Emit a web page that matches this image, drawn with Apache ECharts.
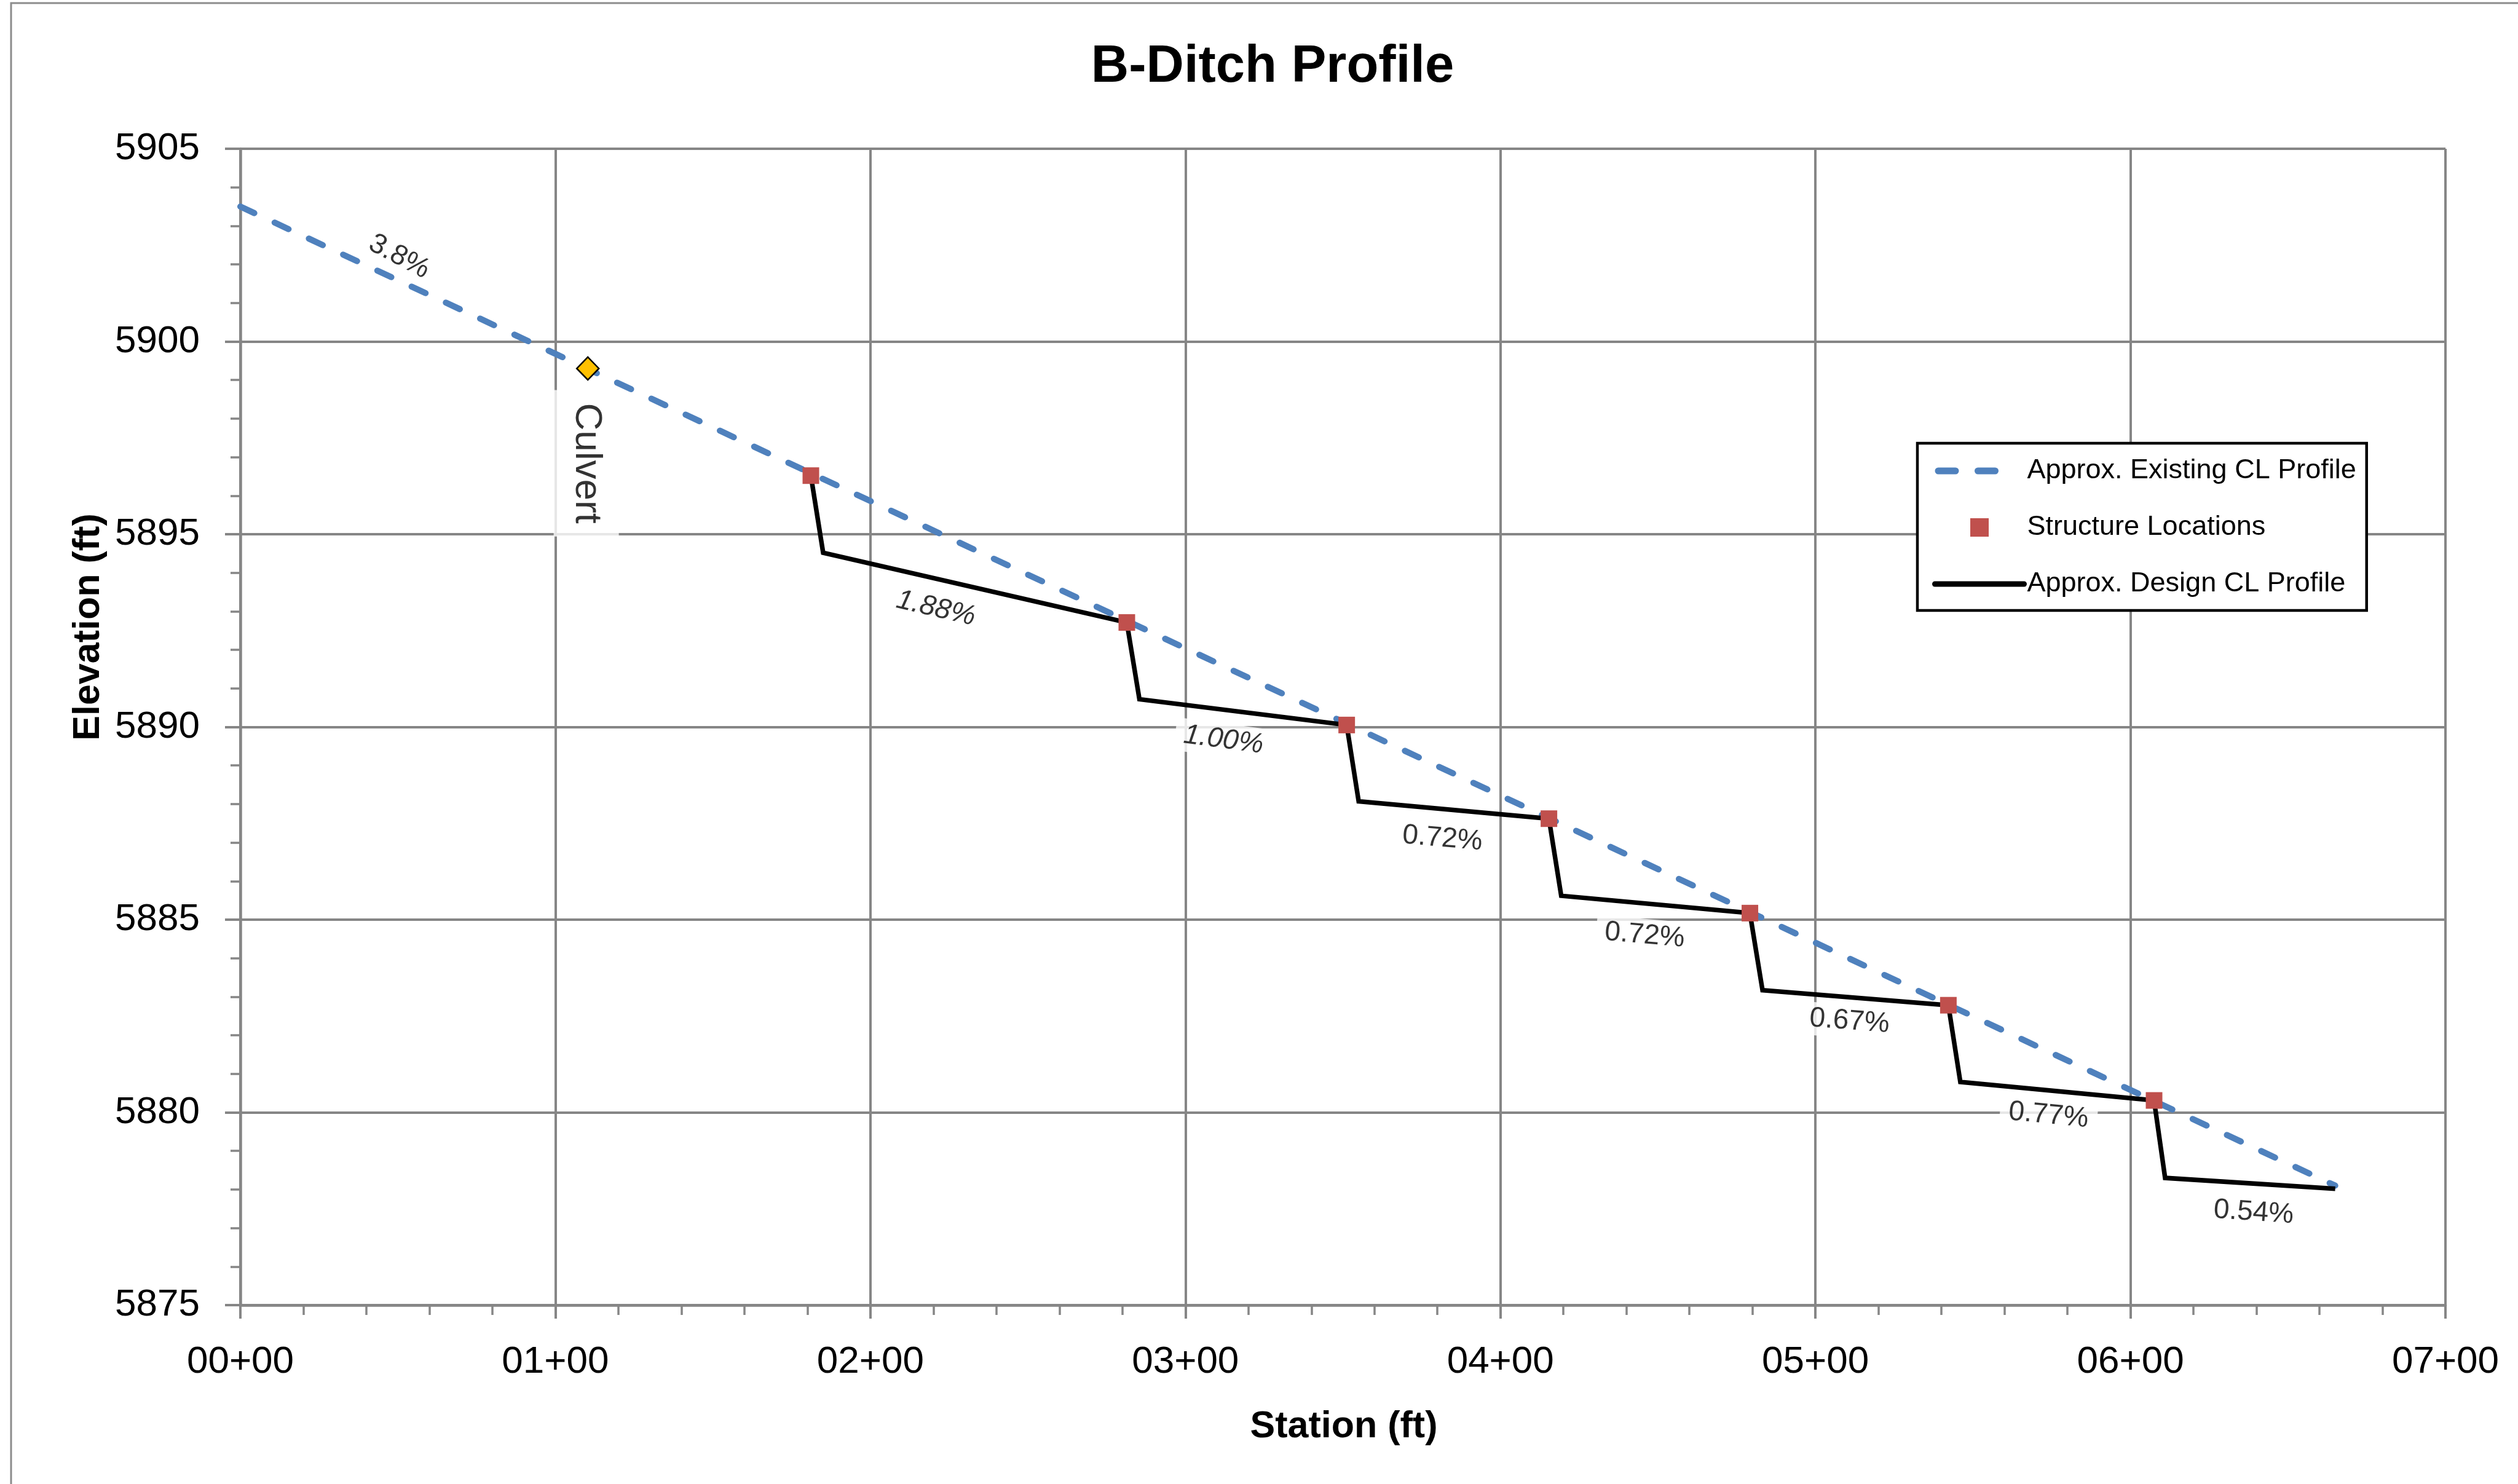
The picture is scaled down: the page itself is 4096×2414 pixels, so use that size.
<!DOCTYPE html>
<html>
<head>
<meta charset="utf-8">
<title>B-Ditch Profile</title>
<script src="https://cdn.jsdelivr.net/npm/echarts@6.0.0/dist/echarts.min.js"></script>
<style>
    html, body { margin: 0; padding: 0; background: #fff; }
    #main { width: 4096px; height: 2414px; }
</style>
</head>
<body>
<div id="main"></div>
<script>
// existing ground centre line (straight, ~3.8%)
var existingStation = [0, 665];
var existingElev = [5903.5, 5878.1];

// drop structures
var structureStation = [181.1, 281.4, 351.2, 415.4, 479.2, 542.2, 607.5];
var structureElev = [5896.52, 5892.71, 5890.05, 5887.62, 5885.17, 5882.78, 5880.31];

// design profile: drop at each structure, then the design grade
var designStation = [181.1, 185.0, 281.4, 285.4, 351.2, 355.0, 415.4, 419.3, 479.2, 483.2, 542.2, 546.0, 607.5, 611.0, 665.0];
var designElev = [5896.52, 5894.52, 5892.71, 5890.72, 5890.05, 5888.07, 5887.62, 5885.62, 5885.17, 5883.17, 5882.78, 5880.79, 5880.31, 5878.30, 5878.02];

var culvertStation = [110.3];
var culvertElev = [5899.3];
var culvertText = ['Culvert'];
var culvertLabelStation = [109.8];
var culvertLabelElev = [5896.84];

// slope callouts
var slopeText = ['3.8%', '1.88%', '1.00%', '0.72%', '0.72%', '0.67%', '0.77%', '0.54%'];
var slopeStation = [50.4, 220.8, 312.1, 381.6, 445.8, 510.8, 574.0, 639.1];
var slopeElev = [5902.2, 5893.07, 5889.66, 5887.10, 5884.59, 5882.36, 5879.92, 5877.40];
var slopeAngle = [-28, -13, -7.5, -5, -5, -4.5, -5.5, -4];
var slopeItalic = [false, true, true, false, false, false, false, false];

var FONT = '"Liberation Sans", Arial, sans-serif';
var GREY = '#868686';

function pairs(xs, ys) {
    return xs.map(function (x, i) { return [x, ys[i]]; });
}

function stationLabel(v) {
    var h = Math.floor(v / 100);
    var r = Math.round(v - h * 100);
    return (h < 10 ? '0' : '') + h + '+' + (r < 10 ? '0' : '') + r;
}

var noteData = slopeText.map(function (t, i) {
    return {
        name: t,
        value: [slopeStation[i], slopeElev[i]],
        label: { rotate: slopeAngle[i], fontStyle: slopeItalic[i] ? 'italic' : 'normal' }
    };
});
noteData.push({
    name: culvertText[0],
    value: [culvertLabelStation[0], culvertLabelElev[0]],
    label: { rotate: -90, fontSize: 62, lineHeight: 70, padding: [18, 21] }
});

var myChart = echarts.init(document.getElementById('main'));

var option = {
    animation: false,
    backgroundColor: '#fff',
    grid: { left: 391, right: 118, top: 242, bottom: 291, outerBoundsMode: 'none' },
    legend: {
        orient: 'vertical',
        left: 3119,
        top: 721,
        padding: [20, 17, 18, 23],
        itemGap: 42,
        itemWidth: 145,
        itemHeight: 30,
        selectedMode: false,
        backgroundColor: '#fff',
        borderColor: '#000',
        borderWidth: 4.5,
        textStyle: { fontFamily: FONT, fontSize: 45, lineHeight: 50, color: '#000' },
        data: [
            {
                name: 'Approx. Existing CL Profile',
                itemStyle: { opacity: 0 },
                lineStyle: { width: 11, type: [28, 36.5, 28, 200], dashOffset: -5.5, cap: 'round' }
            },
            { name: 'Structure Locations', icon: 'path://M0,0h10v10h-10z' },
            {
                name: 'Approx. Design CL Profile',
                itemStyle: { opacity: 0 },
                lineStyle: { width: 9, cap: 'round' }
            }
        ]
    },
    xAxis: {
        type: 'value',
        min: 0,
        max: 700,
        interval: 100,
        axisLine: { onZero: false, lineStyle: { color: GREY, width: 4.5 } },
        axisTick: { length: 22, lineStyle: { color: GREY, width: 4 } },
        minorTick: { show: true, splitNumber: 5, length: 16, lineStyle: { color: GREY, width: 3.5 } },
        splitLine: { show: true, lineStyle: { color: GREY, width: 4 } },
        axisLabel: { margin: 62, fontFamily: FONT, fontSize: 62, color: '#000', formatter: stationLabel }
    },
    yAxis: {
        type: 'value',
        min: 5875,
        max: 5905,
        interval: 5,
        axisLine: { show: true, lineStyle: { color: GREY, width: 4.5 } },
        axisTick: { show: true, length: 25, lineStyle: { color: GREY, width: 4 } },
        minorTick: { show: true, splitNumber: 5, length: 16, lineStyle: { color: GREY, width: 3.5 } },
        splitLine: { show: true, lineStyle: { color: GREY, width: 4 } },
        axisLabel: {
            margin: 66, fontFamily: FONT, fontSize: 62, color: '#000',
            formatter: function (v) { return String(v); }
        }
    },
    graphic: [
        {
            type: 'rect',
            silent: true,
            shape: { x: 18, y: 5, width: 5000, height: 5000 },
            style: { fill: 'none', stroke: '#8c8c8c', lineWidth: 3 }
        },
        {
            type: 'text',
            x: 2070,
            y: 110,
            style: { text: 'B-Ditch Profile', font: 'bold 85px ' + FONT, fill: '#000', align: 'center', verticalAlign: 'middle' }
        },
        {
            type: 'text',
            x: 144,
            y: 1020,
            rotation: Math.PI / 2,
            style: { text: 'Elevation (ft)', font: 'bold 61px ' + FONT, fill: '#000', align: 'center', verticalAlign: 'middle' }
        },
        {
            type: 'text',
            x: 2186,
            y: 2321,
            style: { text: 'Station (ft)', font: 'bold 61px ' + FONT, fill: '#000', align: 'center', verticalAlign: 'middle' }
        }
    ],
    series: [
        {
            name: 'Approx. Existing CL Profile',
            type: 'line',
            symbol: 'none',
            silent: true,
            z: 2,
            data: pairs(existingStation, existingElev),
            itemStyle: { color: '#4F81BD' },
            lineStyle: { color: '#4F81BD', width: 10, type: [25, 36.5], cap: 'round' }
        },
        {
            name: 'Approx. Design CL Profile',
            type: 'line',
            symbol: 'none',
            silent: true,
            z: 3,
            data: pairs(designStation, designElev),
            itemStyle: { color: '#000' },
            lineStyle: { color: '#000', width: 7.5, join: 'miter' }
        },
        {
            name: 'Structure Locations',
            type: 'scatter',
            symbol: 'rect',
            symbolSize: 27,
            silent: true,
            z: 4,
            data: pairs(structureStation, structureElev),
            itemStyle: { color: '#C0504D', opacity: 1 }
        },
        {
            name: 'Culvert',
            type: 'scatter',
            symbol: 'diamond',
            symbolSize: [36, 37],
            silent: true,
            z: 4,
            data: pairs(culvertStation, culvertElev),
            itemStyle: { color: '#FFC000', borderColor: '#000', borderWidth: 2.5, opacity: 1 }
        },
        {
            name: 'notes',
            type: 'scatter',
            symbolSize: 0,
            silent: true,
            z: 10,
            data: noteData,
            label: {
                show: true,
                position: 'inside',
                formatter: '{b}',
                color: '#000',
                fontFamily: FONT,
                fontSize: 46,
                lineHeight: 50,
                backgroundColor: '#fff',
                padding: [2, 14]
            }
        }
    ]
};

myChart.setOption(option);
</script>
</body>
</html>
